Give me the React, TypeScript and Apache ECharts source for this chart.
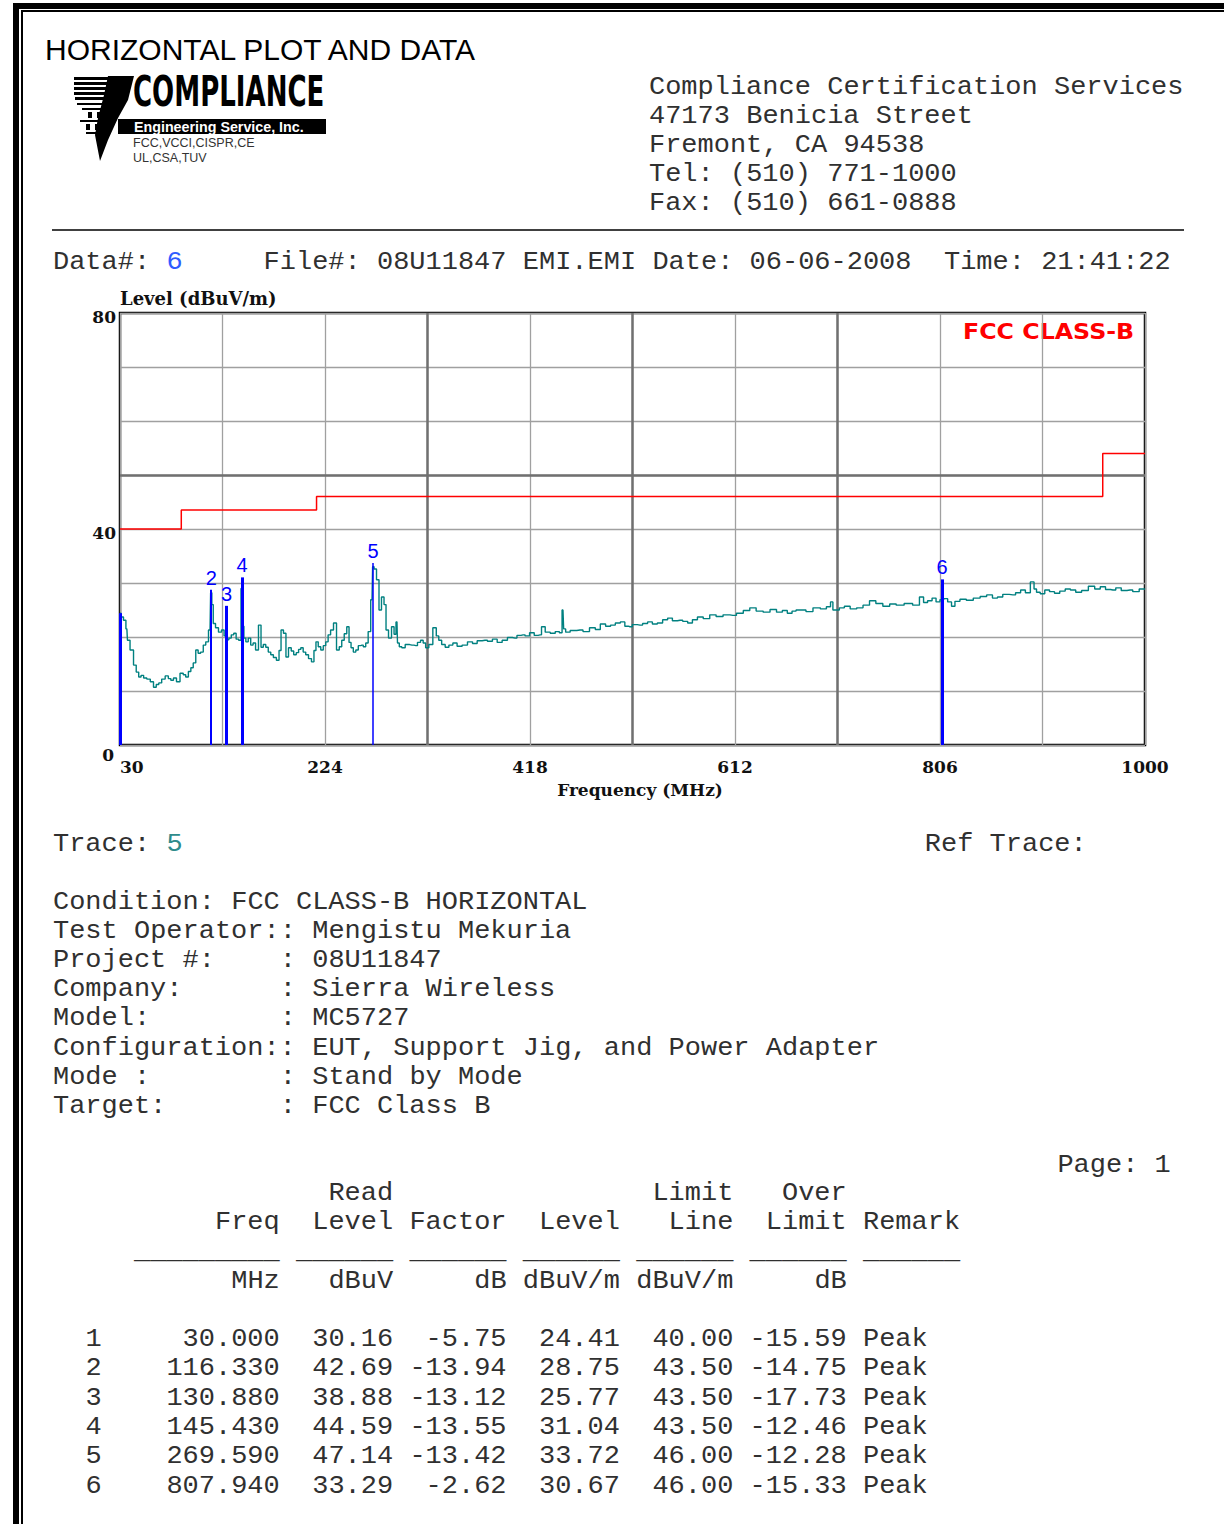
import React, { useEffect, useRef } from "react";
import * as echarts from "echarts";

// ---------------- DATA ----------------
const F0 = 30; // start frequency (MHz)
const xTickLabels = [30, 224, 418, 612, 806, 1000];
const yTickLabels = [0, 40, 80];

const traceFreq = [
  30.0, 31.9, 34.7, 36.5, 37.6, 41.4, 44.2, 46.5, 48.9, 51.0, 53.7, 57.0, 60.3, 63.1, 65.5, 67.9, 71.0, 74.5, 77.0, 79.2,
  82.0, 84.9, 88.7, 91.0, 93.4, 96.0, 98.1, 100.5, 102.9, 105.0, 107.6, 110.0, 112.3, 115.2, 116.3, 117.5, 119.0, 121.8,
  124.6, 127.5, 129.5, 130.9, 132.0, 134.1, 136.5, 138.8, 141.0, 143.6, 145.4, 146.5, 148.0, 150.2, 152.5, 154.9, 157.0,
  159.6, 162.5, 164.4, 166.8, 169.1, 171.5, 173.8, 176.5, 179.5, 181.5, 183.3, 186.1, 188.0, 190.9, 193.2, 195.6, 198.0,
  200.0, 202.2, 204.5, 207.0, 209.8, 212.6, 214.5, 216.4, 218.8, 221.2, 223.5, 225.9, 228.0, 230.6, 233.5, 236.3, 238.7,
  241.0, 243.4, 245.8, 247.7, 249.6, 252.0, 254.3, 256.7, 259.0, 261.4, 263.7, 266.0, 268.5, 269.6, 271.3, 274.2, 276.0,
  278.9, 280.8, 282.7, 285.5, 288.4, 290.3, 292.1, 293.1, 295.5, 297.8, 302.0, 306.3, 310.0, 313.0, 315.8, 318.0, 320.5,
  324.0, 328.1, 330.5, 332.8, 336.0, 339.5, 343.0, 347.0, 351.0, 356.5, 361.2, 366.0, 370.0, 375.4, 380.0, 384.9, 389.0,
  394.3, 399.0, 403.8, 407.5, 411.4, 415.2, 420.0, 424.0, 427.5, 430.3, 434.5, 439.8, 444.0, 447.5, 449.2, 450.5, 453.0,
  459.0, 465.3, 471.0, 477.6, 482.0, 487.1, 492.0, 496.5, 501.0, 506.0, 509.5, 512.6, 517.0, 522.1, 527.0, 531.6, 536.0,
  541.0, 546.0, 550.5, 555.0, 560.0, 565.0, 569.4, 574.0, 578.9, 585.0, 591.2, 597.0, 604.4, 610.0, 616.7, 623.0, 629.0,
  635.0, 642.3, 648.0, 654.6, 659.0, 664.0, 668.0, 671.6, 676.3, 682.0, 689.6, 696.0, 701.0, 703.8, 705.5, 708.5, 713.0,
  718.0, 724.0, 730.3, 736.0, 742.6, 748.0, 755.8, 761.0, 768.1, 776.0, 784.2, 788.9, 792.0, 796.5, 800.5, 804.0, 807.9,
  811.0, 815.5, 818.3, 822.0, 827.8, 834.0, 841.0, 847.0, 853.3, 858.0, 862.8, 868.0, 875.0, 880.0, 884.6, 889.0, 894.0,
  896.0, 898.7, 903.0, 907.3, 912.0, 916.7, 922.0, 927.0, 931.9, 937.0, 943.0, 949.8, 955.0, 960.3, 965.0, 969.7, 975.0,
  980.0, 985.8, 991.0, 998.0, 1000.0,
];
const traceLevel = [
  24.4, 23.7, 23.1, 21.5, 19.4, 17.6, 14.8, 13.5, 12.6, 12.9, 12.4, 12.2, 11.7, 10.7, 11.2, 11.5, 12.2, 12.8, 12.3, 12.0,
  12.4, 11.7, 13.3, 13.0, 12.6, 13.6, 14.3, 15.2, 17.6, 17.0, 17.2, 18.5, 19.1, 21.3, 28.2, 26.0, 22.5, 21.7,
  20.9, 21.3, 20.2, 24.6, 19.5, 19.8, 20.4, 20.7, 19.6, 19.4, 29.0, 22.0, 19.8, 19.1, 19.8, 18.5, 18.9,
  17.6, 22.2, 18.1, 18.6, 18.1, 17.2, 16.7, 16.2, 15.7, 17.5, 21.3, 20.7, 16.3, 18.0, 17.4, 16.7, 17.1,
  17.7, 18.0, 17.2, 16.7, 16.0, 15.4, 17.5, 19.1, 18.2, 17.6, 18.4, 19.1, 20.4, 21.3, 22.6, 17.6, 18.2,
  19.4, 20.6, 21.9, 19.0, 18.0, 17.2, 17.6, 18.4, 18.5, 18.2, 18.9, 21.0, 26.9, 33.0, 32.6, 30.6, 25.0,
  27.4, 26.0, 21.3, 19.8, 21.9, 20.5, 22.8, 18.9, 18.2, 18.0, 18.6, 18.5, 18.4, 19.0, 19.4, 18.9, 18.0,
  18.6, 21.7, 20.2, 19.4, 18.6, 18.1, 18.5, 18.9, 18.3, 18.5, 19.1, 18.8, 19.3, 19.4, 19.2, 19.6, 19.0,
  19.4, 19.9, 19.8, 20.3, 20.4, 20.2, 20.8, 20.3, 20.4, 21.9, 20.9, 20.7, 21.0, 20.8, 25.0, 21.5, 20.9,
  21.2, 21.3, 21.0, 21.7, 21.4, 22.4, 22.0, 22.2, 22.6, 22.8, 22.0, 21.9, 22.3, 22.2, 22.5, 22.8, 22.4,
  22.6, 23.2, 23.5, 23.0, 23.1, 22.9, 22.6, 23.2, 23.7, 23.4, 24.1, 23.8, 24.1, 24.0, 24.4, 24.9, 25.4,
  24.8, 24.6, 25.1, 24.6, 24.9, 24.4, 24.8, 25.0, 25.0, 24.7, 25.4, 25.2, 25.6, 26.5, 25.0, 25.0, 25.4,
  25.7, 25.2, 25.4, 25.9, 26.7, 26.2, 25.7, 26.1, 25.9, 26.2, 25.9, 27.4, 26.4, 26.7, 27.2, 26.5, 26.9,
  27.1, 26.5, 25.7, 26.6, 27.0, 26.8, 27.2, 27.5, 27.8, 27.2, 27.4, 27.9, 27.8, 28.2, 28.7, 28.2, 30.2,
  28.9, 28.3, 28.0, 28.7, 28.4, 28.1, 28.5, 28.9, 28.7, 28.3, 28.6, 29.4, 28.9, 29.3, 28.8, 28.7, 29.1,
  28.6, 28.7, 28.4, 28.9, 28.8,
];

const limitFreq = [30, 88, 216, 960, 1000];
const limitLevel = [40, 43.5, 46, 54, 54];

const markerNo = [1, 2, 3, 4, 5, 6];
const markerFreq = [30.0, 116.33, 130.88, 145.43, 269.59, 807.94];
const markerRead = [30.16, 42.69, 38.88, 44.59, 47.14, 33.29];
const markerFactor = [-5.75, -13.94, -13.12, -13.55, -13.42, -2.62];
const markerLevel = [24.41, 28.75, 25.77, 31.04, 33.72, 30.67];
const markerLimit = [40.0, 43.5, 43.5, 43.5, 46.0, 46.0];
const markerOver = [-15.59, -14.75, -17.73, -12.46, -12.28, -15.33];
const markerRemark = ["Peak", "Peak", "Peak", "Peak", "Peak", "Peak"];

const addressLines = [
  "Compliance Certification Services",
  "47173 Benicia Street",
  "Fremont, CA 94538",
  "Tel: (510) 771-1000",
  "Fax: (510) 661-0888",
];
const conditionLines = [
  "Condition: FCC CLASS-B HORIZONTAL",
  "Test Operator:: Mengistu Mekuria",
  "Project #:    : 08U11847",
  "Company:      : Sierra Wireless",
  "Model:        : MC5727",
  "Configuration:: EUT, Support Jig, and Power Adapter",
  "Mode :        : Stand by Mode",
  "Target:       : FCC Class B",
];
const tableHeader = [
  "                 Read                Limit   Over",
  "          Freq  Level Factor  Level   Line  Limit Remark",
  "     _________ ______ ______ ______ ______ ______ ______",
  "           MHz   dBuV     dB dBuV/m dBuV/m     dB",
];

// ---------------- STYLE HELPERS ----------------
const TEXT = "#303030";
const CW = 16.2;
const MX = 53;
const MONO_SIZE = 26;
const MONO_SCALE = CW / (0.6 * MONO_SIZE);
const MONO = MONO_SIZE + 'px "Liberation Mono", "Courier New", monospace';

function txt(x: number, y: number, text: string, font: string, fill: string, align = "left", extra: any = {}) {
  return {
    type: "text",
    x,
    y,
    silent: true,
    ...extra,
    style: {
      text,
      font,
      fill,
      align,
      textAlign: align,
      verticalAlign: "middle",
      textVerticalAlign: "middle",
    },
  };
}

function monoLine(line: string, y: number, color = TEXT, x0 = MX) {
  const out: any[] = [];
  const re = /\S+/g;
  let m: RegExpExecArray | null;
  while ((m = re.exec(line))) {
    out.push(txt(x0 + m.index * CW, y + 1, m[0], MONO, color, "left", { scaleX: MONO_SCALE }));
  }
  return out;
}

function fmtRow(i: number) {
  return (
    "  " +
    String(markerNo[i]) +
    markerFreq[i].toFixed(3).padStart(11) +
    markerRead[i].toFixed(2).padStart(7) +
    markerFactor[i].toFixed(2).padStart(7) +
    markerLevel[i].toFixed(2).padStart(7) +
    markerLimit[i].toFixed(2).padStart(7) +
    markerOver[i].toFixed(2).padStart(7) +
    " " +
    markerRemark[i]
  );
}

function buildGraphic() {
  const g: any[] = [];
  // page border (double line)
  g.push({ type: "rect", silent: true, shape: { x: 13, y: 3, width: 1211, height: 6 }, style: { fill: "#000" } });
  g.push({ type: "rect", silent: true, shape: { x: 21, y: 10, width: 1203, height: 2 }, style: { fill: "#000" } });
  g.push({ type: "rect", silent: true, shape: { x: 13, y: 3, width: 6, height: 1521 }, style: { fill: "#000" } });
  g.push({ type: "rect", silent: true, shape: { x: 21, y: 10, width: 2, height: 1514 }, style: { fill: "#000" } });

  // title
  g.push(txt(45, 49, "HORIZONTAL PLOT AND DATA", '30px "Liberation Sans", Arial, sans-serif', "#000"));

  // logo
  const stripes = [
    [74, 77, 38],
    [74, 82, 37],
    [74, 87, 36],
    [74, 92, 35],
    [75, 97, 33],
  ];
  stripes.forEach(([x, y, w]) =>
    g.push({ type: "rect", silent: true, shape: { x, y, width: w, height: 3 }, style: { fill: "#000" } })
  );
  const bits = [
    [77, 103, 28, 2],
    [82, 108, 22, 2],
    [88, 112, 4, 6],
    [97, 112, 4, 6],
    [80, 120, 24, 2],
    [86, 124, 4, 6],
    [95, 124, 4, 6],
    [86, 132, 16, 2],
  ];
  bits.forEach(([x, y, w, h]) =>
    g.push({ type: "rect", silent: true, shape: { x, y, width: w, height: h }, style: { fill: "#000" } })
  );
  g.push({
    type: "polygon",
    silent: true,
    shape: {
      points: [
        [108, 76],
        [134, 76],
        [128, 100],
        [118, 118],
        [108, 140],
        [100, 161],
        [95, 135],
        [98, 118],
        [104, 95],
      ],
    },
    style: { fill: "#000" },
  });
  g.push({ type: "rect", silent: true, shape: { x: 118, y: 119, width: 208, height: 15 }, style: { fill: "#000" } });
  g.push(txt(133, 92, "COMPLIANCE", 'bold 42px "DejaVu Sans", sans-serif', "#000", "left", { scaleX: 0.62 }));
  g.push(txt(134, 127, "Engineering Service, Inc.", 'bold 14px "Liberation Sans", Arial, sans-serif', "#fff", "left", { scaleX: 1.02 }));
  g.push(txt(133, 143, "FCC,VCCI,CISPR,CE", '12.5px "Liberation Sans", Arial, sans-serif', "#333"));
  g.push(txt(133, 158, "UL,CSA,TUV", '12.5px "Liberation Sans", Arial, sans-serif', "#333"));

  // address
  addressLines.forEach((l, i) => g.push(...monoLine(l, 86 + i * 29, TEXT, 649)));

  // separator
  g.push({ type: "line", silent: true, shape: { x1: 52, y1: 230, x2: 1184, y2: 230 }, style: { stroke: "#000", lineWidth: 1.5 } });

  // data line
  g.push(...monoLine("Data#:", 261));
  g.push(...monoLine("       6", 261, "#2f5cff"));
  g.push(...monoLine("             File#: 08U11847 EMI.EMI Date: 06-06-2008  Time: 21:41:22", 261));

  // chart texts
  g.push(txt(120, 298, "Level (dBuV/m)", 'bold 18px "DejaVu Serif", serif', "#111"));
  g.push(txt(640, 790, "Frequency (MHz)", 'bold 17px "DejaVu Serif", serif', "#111", "center"));
  g.push(txt(963, 332, "FCC CLASS-B", 'bold 21px "DejaVu Sans", sans-serif', "#ff0000", "left", { scaleX: 1.13 }));

  // trace line
  g.push(...monoLine("Trace:", 843));
  g.push(...monoLine("       5", 843, "#2e8b8b"));
  g.push(...monoLine("                                                      Ref Trace:", 843, TEXT, MX - 3));

  conditionLines.forEach((l, i) => g.push(...monoLine(l, 901 + i * 29.15)));

  g.push(...monoLine("                                                              Page: 1", 1164));
  tableHeader.forEach((l, i) => g.push(...monoLine(l, 1192 + i * 29.3)));
  markerNo.forEach((_, i) => g.push(...monoLine(fmtRow(i), 1338 + i * 29.35)));
  return g;
}

function buildOption(): any {
  const tickFont = { fontFamily: '"DejaVu Serif", serif', fontWeight: "bold", fontSize: 17, color: "#111" };
  const markerWidths = [3, 2, 3, 3, 1.5, 3];
  return {
    animation: false,
    backgroundColor: "#ffffff",
    grid: {
      left: 120,
      top: 313,
      width: 1025,
      height: 432,
      show: true,
      borderColor: "#000",
      borderWidth: 2.5,
      backgroundColor: "rgba(0,0,0,0)",
      containLabel: false,
    },
    xAxis: {
      type: "value",
      min: 0,
      max: 970,
      interval: 97,
      axisLine: { show: false },
      axisTick: { show: false },
      splitLine: { show: true, lineStyle: { color: "#a0a0a0", width: 1.3 } },
      axisLabel: {
        ...tickFont,
        margin: 13,
        alignMinLabel: "left",
        formatter: (v: number) => {
          const f = Math.round(v + F0);
          return xTickLabels.indexOf(f) >= 0 ? String(f) : "";
        },
      },
    },
    yAxis: {
      type: "value",
      min: 0,
      max: 80,
      interval: 10,
      axisLine: { show: false },
      axisTick: { show: false },
      splitLine: { show: true, lineStyle: { color: "#a0a0a0", width: 1.3 } },
      axisLabel: {
        ...tickFont,
        margin: 4,
        verticalAlign: "middle",
        formatter: (v: number) => {
          if (yTickLabels.indexOf(v) < 0) return "";
          return v === 0 ? "{b|0}" : "{a|" + v + "}";
        },
        rich: {
          a: { ...tickFont, padding: [7, 0, 0, 0] },
          b: { ...tickFont, padding: [20, 2, 0, 0] },
        },
      },
    },
    series: [
      {
        type: "line",
        data: [],
        silent: true,
        markLine: {
          silent: true,
          z: 1,
          symbol: ["none", "none"],
          label: { show: false },
          lineStyle: { color: "#707070", width: 2.5, type: "solid" },
          data: [{ xAxis: 291 }, { xAxis: 485 }, { xAxis: 679 }, { yAxis: 50 }],
        },
      },
      {
        type: "line",
        step: "end",
        silent: true,
        showSymbol: false,
        z: 2,
        lineStyle: { color: "#ff0000", width: 1.5 },
        data: limitFreq.map((f, i) => [f - F0, limitLevel[i]]),
      },
      {
        type: "line",
        step: "middle",
        silent: true,
        showSymbol: false,
        z: 3,
        lineStyle: { color: "#008080", width: 1.4 },
        data: traceFreq.map((f, i) => [f - F0, traceLevel[i]]),
      },
      {
        type: "line",
        data: [],
        silent: true,
        markLine: {
          silent: true,
          z: 6,
          symbol: ["none", "none"],
          lineStyle: { color: "#0000ff", type: "solid" },
          data: markerNo.map((n, i) => [
            {
              coord: [markerFreq[i] - F0, 0],
              lineStyle: { width: markerWidths[i], color: "#0000ff", type: "solid" },
              label: {
                show: n !== 1,
                position: "end",
                distance: 2,
                formatter: String(n),
                color: "#0000ff",
                fontFamily: '"Liberation Sans", Arial, sans-serif',
                fontSize: 20,
              },
            },
            { coord: [markerFreq[i] - F0, markerLevel[i]] },
          ]),
        },
      },
    ],
    graphic: buildGraphic(),
  };
}

export default function App() {
  const ref = useRef<HTMLDivElement>(null);
  useEffect(() => {
    if (!ref.current) return;
    const chart = echarts.init(ref.current, null, { renderer: "svg" });
    chart.setOption(buildOption());
    return () => chart.dispose();
  }, []);
  return (
    <div
      ref={ref}
      style={{ position: "absolute", left: 0, top: 0, width: 1224, height: 1524, background: "#fff" }}
    />
  );
}
